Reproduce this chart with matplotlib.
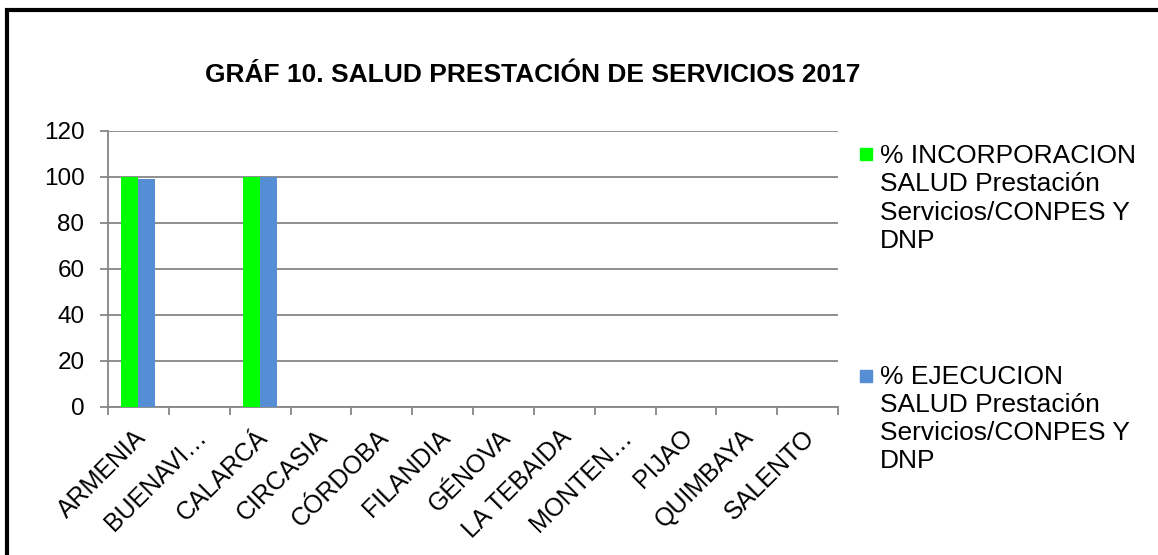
import matplotlib.pyplot as plt
from matplotlib.patches import Rectangle
from matplotlib.transforms import ScaledTranslation
import numpy as np

plt.rcParams['font.family'] = ['Liberation Sans', 'DejaVu Sans']

municipios = ['ARMENIA', 'BUENAVI…', 'CALARCÁ', 'CIRCASIA', 'CÓRDOBA', 'FILANDIA',
              'GÉNOVA', 'LA TEBAIDA', 'MONTEN…', 'PIJAO', 'QUIMBAYA', 'SALENTO']
incorporacion = [100, 0, 100, 0, 0, 0, 0, 0, 0, 0, 0, 0]
ejecucion = [99, 0, 100, 0, 0, 0, 0, 0, 0, 0, 0, 0]
lbl_inc = '% INCORPORACION\nSALUD Prestación\nServicios/CONPES Y\nDNP'
lbl_eje = '% EJECUCION\nSALUD Prestación\nServicios/CONPES Y\nDNP'

VERDE = '#00ff00'
AZUL = '#558ed5'
GRIS = '#868686'

fig = plt.figure(figsize=(11.58, 5.55), dpi=100)
ax = fig.add_axes([0.0933, 0.2667, 0.6304, 0.4973])

x = np.arange(len(municipios))
w = 0.28
ax.bar(x - w / 2, incorporacion, w, color=VERDE, zorder=3)
ax.bar(x + w / 2, ejecucion, w, color=AZUL, zorder=3)

ax.set_xlim(-0.5, len(municipios) - 0.5)
ax.set_ylim(0, 120)
ax.set_yticks(range(0, 121, 20))
ax.yaxis.grid(True, color=GRIS, linewidth=1.3, zorder=0)
ax.set_axisbelow(True)

ax.set_xticks(x)
ax.set_xticklabels(municipios, rotation=45, ha='right', va='top',
                   rotation_mode='anchor', fontsize=18)
ax.tick_params(axis='x', length=0, pad=13)
desplaza = ScaledTranslation(-5 / 100, 0, fig.dpi_scale_trans)
for t in ax.get_xticklabels():
    t.set_transform(t.get_transform() + desplaza)
ax.set_xticks(np.arange(-0.5, len(municipios), 1), minor=True)
ax.tick_params(axis='x', which='minor', length=6, color=GRIS, width=1.3)
ax.tick_params(axis='y', labelsize=17.5, length=6, color=GRIS, width=1.3, pad=11)

for s in ['top', 'right']:
    ax.spines[s].set_visible(False)
for s in ['left', 'bottom']:
    ax.spines[s].set_color(GRIS)
    ax.spines[s].set_linewidth(1.3)

fig.text(0.46, 0.865, 'GRÁF 10. SALUD PRESTACIÓN DE SERVICIOS 2017',
         ha='center', va='center', fontsize=19, fontweight='bold')

# leyenda dibujada a mano (el cuadro va alineado con la primera línea)
for texto, color, y_txt, y_cuadro in [(lbl_inc, VERDE, 0.740, 160), (lbl_eje, AZUL, 0.343, 382)]:
    fig.text(0.760, y_txt, texto, ha='left', va='top', fontsize=19, linespacing=1.22)
    fig.patches.append(Rectangle((860 / 1158, 1 - y_cuadro / 555), 12 / 1158, 12 / 555,
                                 transform=fig.transFigure, color=color))

# marco exterior
fig.patches.append(Rectangle((0.006, -0.1), 1.1, 1.082, transform=fig.transFigure,
                             fill=False, edgecolor='black', linewidth=3, zorder=10))

fig.savefig('out.png', dpi=100)
